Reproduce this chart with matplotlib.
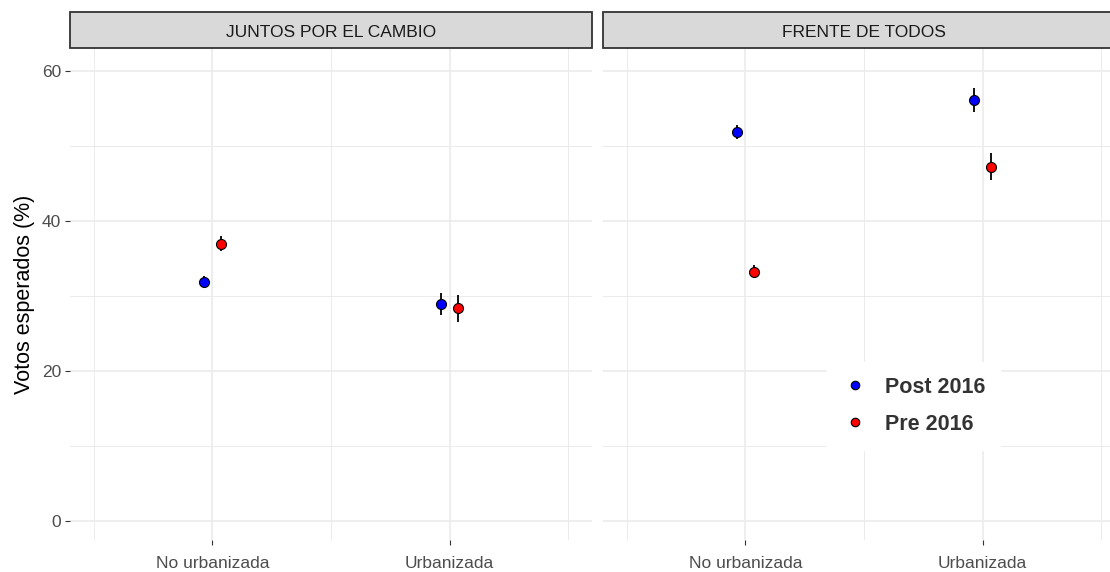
import numpy as np
import matplotlib
matplotlib.use("Agg")
import matplotlib.pyplot as plt
from matplotlib.patches import Rectangle

plt.rcParams['font.family'] = ['Liberation Sans', 'DejaVu Sans']

# data
paneles = ['JUNTOS POR EL CAMBIO', 'FRENTE DE TODOS']
categorias = ['No urbanizada', 'Urbanizada']
grupos = ['Post 2016', 'Pre 2016']
colores = ['#0000FF', '#FF0000']

# votos[panel][grupo] -> value per category
votos = {
    'JUNTOS POR EL CAMBIO': {'Post 2016': [31.9, 29.0], 'Pre 2016': [37.0, 28.4]},
    'FRENTE DE TODOS': {'Post 2016': [51.9, 56.1], 'Pre 2016': [33.3, 47.3]},
}
errores = {
    'JUNTOS POR EL CAMBIO': {'Post 2016': [0.8, 1.5], 'Pre 2016': [1.0, 1.8]},
    'FRENTE DE TODOS': {'Post 2016': [0.9, 1.6], 'Pre 2016': [0.9, 1.75]},
}

W, H = 1110, 572
fig = plt.figure(figsize=(W / 100, H / 100), dpi=100)

grid_col = '#EBEBEB'
text_col = '#4D4D4D'
dodge = [-0.035, 0.037]

panel_left = [70, 603]
panel_w = 522
panel_top, panel_bot = 48, 540
strip_top = 12

axes = []
for i, nombre in enumerate(paneles):
    ax = fig.add_axes([panel_left[i] / W, (H - panel_bot) / H,
                       panel_w / W, (panel_bot - panel_top) / H])
    axes.append(ax)
    ax.set_xlim(0.4, 2.6)
    ax.set_ylim(-2.5, 63.1)
    for s in ax.spines.values():
        s.set_visible(False)

    # grid (major + minor like ggplot)
    for yv in [0, 20, 40, 60]:
        ax.axhline(yv, color=grid_col, lw=1.2, zorder=0)
    for yv in [10, 30, 50]:
        ax.axhline(yv, color=grid_col, lw=0.7, zorder=0)
    x_idx = np.arange(1, len(categorias) + 1)
    for xv in x_idx:
        ax.axvline(xv, color=grid_col, lw=1.2, zorder=0)
    for xv in [0.5, 1.5, 2.5]:
        ax.axvline(xv, color=grid_col, lw=0.7, zorder=0)

    for g, grupo in enumerate(grupos):
        xs = x_idx + dodge[g]
        ys = votos[nombre][grupo]
        es = errores[nombre][grupo]
        ax.errorbar(xs, ys, yerr=es, fmt='none', ecolor='black', elinewidth=1.3,
                    capsize=0, zorder=2)
        ax.plot(xs, ys, 'o', ms=7.2, mfc=colores[g], mec='black', mew=0.8,
                zorder=3, label=grupo, linestyle='none')

    ax.set_xticks(x_idx)
    ax.set_xticklabels(categorias)
    ax.set_yticks([0, 20, 40, 60])
    ax.tick_params(axis='both', colors='#333333', length=3.5, width=0.8,
                   labelcolor=text_col, labelsize=12.5, pad=3)
    ax.tick_params(axis='x', pad=8)
    if i == 0:
        ax.set_ylabel('Votos esperados (%)', fontsize=15.5, color='black', labelpad=5)
    else:
        ax.tick_params(axis='y', left=False, labelleft=False)

    # strip
    sax = fig.add_axes([panel_left[i] / W, (H - panel_top) / H,
                        panel_w / W, (panel_top - strip_top) / H])
    sax.set_xlim(0, 1)
    sax.set_ylim(0, 1)
    sax.axis('off')
    sax.add_patch(Rectangle((0, 0), 1, 1, facecolor='#D9D9D9', edgecolor='#333333',
                            lw=1.3, transform=sax.transAxes, clip_on=False))
    sax.text(0.5, 0.42, nombre, ha='center', va='center', fontsize=12.5,
             color='#1A1A1A')

leg = axes[1].legend(loc='lower left', bbox_to_anchor=(0.43, 0.183),
                     frameon=True, fancybox=False, framealpha=1,
                     edgecolor='white', facecolor='white', borderpad=0.7,
                     handlelength=1.2, handletextpad=0.75, labelspacing=0.75,
                     markerscale=0.85, borderaxespad=0,
                     prop={'size': 15.5, 'weight': 'bold'})
for t in leg.get_texts():
    t.set_color('#333333')

fig.savefig('out.png', dpi=100)
